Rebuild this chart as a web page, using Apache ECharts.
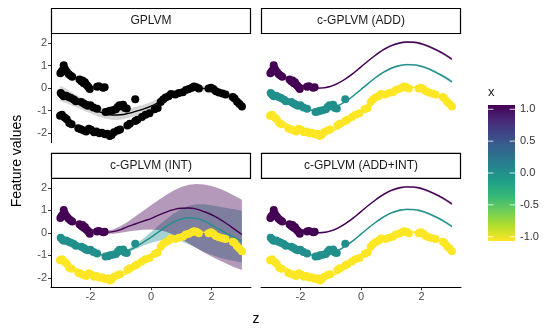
<!DOCTYPE html>
<html>
<head>
<meta charset="utf-8">
<script src="https://cdn.jsdelivr.net/npm/echarts@6/dist/echarts.min.js"></script>
<style>
  html, body { margin: 0; padding: 0; background: #fff; }
  #chart { width: 548px; height: 328px; }
</style>
</head>
<body>
<div id="chart"></div>
<script>
// Panel titles
const panelTitles = ['GPLVM', 'c-GPLVM (ADD)', 'c-GPLVM (INT)', 'c-GPLVM (ADD+INT)'];

// Axis ticks
const xTicks = [-2, 0, 2];
const yTicks = [-2, -1, 0, 1, 2];
const legendTicks = [1.0, 0.5, 0.0, -0.5, -1.0];

// Observed points, grouped by covariate x
const zPurple = [-2.99,-2.95,-2.91,-2.88,-2.84,-2.78,-2.72,-2.66,-2.60,-2.36,-2.30,-2.26,-2.22,-2.18,-2.14,-2.10,-2.06,-2.02,-1.78,-1.72,-1.58,-1.53];
const vPurple = [0.66,0.74,0.80,1.01,0.85,0.72,0.62,0.56,0.50,0.38,0.30,0.34,0.22,0.26,0.16,0.10,0.04,-0.04,0.06,0.08,0.02,0.04];

const zTeal = [-2.98,-2.93,-2.88,-2.80,-2.72,-2.64,-2.55,-2.48,-2.30,-2.22,-2.15,-2.08,-2.00,-1.90,-1.78,-1.50,-1.42,-1.35,-1.26,-1.16,-1.10,-1.04,-0.98,-0.92,-0.86,-0.80,-0.52];
const vTeal = [-0.22,-0.30,-0.36,-0.34,-0.40,-0.44,-0.50,-0.58,-0.62,-0.68,-0.74,-0.78,-0.76,-0.86,-0.92,-1.06,-1.04,-1.00,-0.98,-0.94,-0.84,-0.76,-0.80,-0.74,-0.88,-0.90,-0.49];

const zYellow = [-3.00,-2.94,-2.85,-2.78,-2.70,-2.62,-2.40,-2.32,-2.22,-2.14,-2.05,-1.98,-1.88,-1.80,-1.70,-1.62,-1.52,-1.44,-1.36,-1.30,-1.22,-1.10,-1.02,-0.78,-0.70,-0.52,-0.45,-0.30,-0.18,-0.05,0.12,0.22,0.32,0.40,0.48,0.58,0.66,0.80,0.92,1.05,1.15,1.25,1.35,1.42,1.50,1.58,1.90,1.98,2.06,2.14,2.24,2.36,2.46,2.70,2.76,2.84,2.92,3.00];
const vYellow = [-1.22,-1.18,-1.30,-1.38,-1.55,-1.60,-1.78,-1.82,-1.88,-1.92,-1.80,-1.85,-1.96,-1.92,-2.00,-1.98,-2.05,-2.02,-2.12,-2.08,-1.96,-1.88,-1.84,-1.66,-1.58,-1.46,-1.40,-1.28,-1.18,-1.12,-0.94,-0.88,-0.62,-0.50,-0.42,-0.36,-0.26,-0.28,-0.22,-0.18,-0.08,-0.04,0.02,0.07,0.04,-0.02,-0.02,0.02,-0.04,-0.14,-0.20,-0.24,-0.28,-0.40,-0.46,-0.60,-0.70,-0.82];

// Latent positions where the fitted curves are evaluated
const zFit = [-3.00,-2.75,-2.50,-2.25,-2.00,-1.75,-1.50,-1.25,-1.00,-0.75,-0.50,-0.25,0.00,0.25,0.50,0.75,1.00,1.25,1.50,1.75,2.00,2.25,2.50,2.75,3.00];

// GPLVM: single curve for all points
const gplvmMean = [-0.22,-0.38,-0.55,-0.72,-0.88,-1.03,-1.14,-1.19,-1.18,-1.12,-1.03,-0.93,-0.80,-0.63,-0.45,-0.28,-0.14,-0.05,-0.01,-0.02,-0.08,-0.18,-0.32,-0.50,-0.70];
const gplvmHalf = [0.34,0.31,0.28,0.26,0.24,0.23,0.22,0.22,0.22,0.21,0.20,0.19,0.18,0.16,0.15,0.14,0.13,0.12,0.12,0.12,0.12,0.13,0.15,0.17,0.20];

// Additive model (also used for ADD+INT)
const addPurple = [0.72,0.58,0.44,0.28,0.15,0.05,0.00,0.01,0.08,0.22,0.42,0.66,0.94,1.22,1.48,1.71,1.88,1.99,2.04,2.03,1.96,1.84,1.68,1.50,1.28];
const addTeal = [-0.28,-0.42,-0.56,-0.72,-0.85,-0.95,-1.00,-0.99,-0.92,-0.78,-0.58,-0.34,-0.06,0.22,0.48,0.71,0.88,0.99,1.04,1.03,0.96,0.84,0.68,0.50,0.28];
const addYellow = [-1.28,-1.42,-1.56,-1.72,-1.85,-1.95,-2.00,-1.99,-1.92,-1.78,-1.58,-1.34,-1.06,-0.78,-0.52,-0.29,-0.12,-0.01,0.04,0.03,-0.04,-0.16,-0.32,-0.50,-0.72];
const addHalf = [0.03,0.03,0.03,0.03,0.03,0.03,0.03,0.03,0.03,0.03,0.03,0.03,0.03,0.03,0.03,0.04,0.04,0.04,0.04,0.04,0.05,0.05,0.05,0.06,0.06];

// Interaction model: curves and interval edges
const intPurple = [0.74,0.60,0.45,0.30,0.15,0.06,0.02,0.05,0.14,0.28,0.40,0.52,0.63,0.78,0.92,1.03,1.09,1.10,1.05,0.94,0.80,0.62,0.40,0.16,-0.08];
const intPurpleLow = [0.70,0.56,0.41,0.26,0.11,0.01,-0.04,-0.04,0.00,0.06,0.10,0.13,0.14,0.12,0.04,-0.10,-0.28,-0.48,-0.68,-0.88,-1.05,-1.22,-1.38,-1.53,-1.66];
const intPurpleHigh = [0.78,0.64,0.49,0.34,0.19,0.11,0.08,0.15,0.30,0.50,0.74,0.98,1.22,1.46,1.68,1.88,2.03,2.13,2.17,2.15,2.08,1.97,1.82,1.65,1.47];
const intTeal = [-0.26,-0.40,-0.54,-0.70,-0.83,-0.94,-1.00,-1.00,-0.93,-0.80,-0.62,-0.42,-0.20,0.04,0.27,0.47,0.61,0.67,0.64,0.52,0.34,0.16,-0.03,-0.21,-0.38];
const intTealLow = [-0.30,-0.44,-0.58,-0.74,-0.87,-0.98,-1.04,-1.04,-0.98,-0.87,-0.72,-0.57,-0.45,-0.36,-0.30,-0.30,-0.38,-0.52,-0.68,-0.85,-0.98,-1.10,-1.19,-1.26,-1.32];
const intTealHigh = [-0.22,-0.36,-0.50,-0.66,-0.79,-0.90,-0.96,-0.96,-0.88,-0.72,-0.50,-0.26,0.03,0.32,0.60,0.86,1.06,1.20,1.27,1.27,1.22,1.16,1.10,1.04,0.98];
const intYellow = [-1.26,-1.42,-1.57,-1.72,-1.85,-1.95,-2.00,-1.99,-1.92,-1.78,-1.58,-1.34,-1.06,-0.78,-0.52,-0.30,-0.13,-0.02,0.03,0.02,-0.05,-0.17,-0.33,-0.52,-0.74];
const intYellowHalf = [0.03,0.03,0.03,0.03,0.03,0.03,0.03,0.03,0.03,0.03,0.03,0.03,0.03,0.03,0.03,0.03,0.03,0.03,0.03,0.03,0.04,0.04,0.04,0.05,0.05];

const PURPLE = '#440154', TEAL = '#21908C', YELLOW = '#FDE725';
const VIRIDIS = ['#440154','#482878','#3E4A89','#31688E','#26828E','#1F9E89','#35B779','#6DCD59','#B4DE2C','#FDE725'];
const FONT = 'Liberation Sans, Arial, sans-serif';

// Panel layout (pixels)
const panels = [
  { left: 51, top: 33.5, width: 200, height: 109.2 },
  { left: 261, top: 33.5, width: 200, height: 109.2 },
  { left: 51, top: 178.3, width: 200, height: 108.9 },
  { left: 261, top: 178.3, width: 200, height: 108.9 }
];
const STRIP_H = 25;

const pairs = (xs, ys) => xs.map((x, i) => [x, ys[i]]);
const minus = (a, b) => a.map((v, i) => v - b[i]);
const plus = (a, b) => a.map((v, i) => v + b[i]);

// Shaded interval between two edge curves
function bandSeries(g, low, high, color) {
  const data = zFit.map((z, i) => [z, low[i], high[i]]);
  return {
    type: 'custom', xAxisIndex: g, yAxisIndex: g, data, silent: true, z: 1,
    encode: { x: 0, y: [1, 2] },
    renderItem(params, api) {
      if (params.dataIndex !== 0) return null;
      const upper = data.map(d => api.coord([d[0], d[2]]));
      const lower = data.map(d => api.coord([d[0], d[1]])).reverse();
      return {
        type: 'polygon',
        shape: { points: upper.concat(lower) },
        style: { fill: color, opacity: 0.4 }
      };
    }
  };
}

function lineSeries(g, mean, color) {
  return {
    type: 'line', xAxisIndex: g, yAxisIndex: g, data: pairs(zFit, mean),
    showSymbol: false, smooth: true, silent: true, z: 3,
    lineStyle: { color, width: 1.4 }
  };
}

function pointSeries(g, zs, vs, color) {
  return {
    type: 'scatter', xAxisIndex: g, yAxisIndex: g, data: pairs(zs, vs),
    symbolSize: 8, silent: true, z: 4,
    itemStyle: { color, opacity: 1 }
  };
}

const series = [];
// GPLVM
series.push(bandSeries(0, minus(gplvmMean, gplvmHalf), plus(gplvmMean, gplvmHalf), '#999999'));
series.push(lineSeries(0, gplvmMean, '#000000'));
series.push(pointSeries(0, zPurple.concat(zTeal, zYellow), vPurple.concat(vTeal, vYellow), '#000000'));
// ADD and ADD+INT
[1, 3].forEach(g => {
  series.push(bandSeries(g, minus(addYellow, addHalf), plus(addYellow, addHalf), YELLOW));
  series.push(bandSeries(g, minus(addTeal, addHalf), plus(addTeal, addHalf), TEAL));
  series.push(bandSeries(g, minus(addPurple, addHalf), plus(addPurple, addHalf), PURPLE));
  series.push(lineSeries(g, addYellow, YELLOW));
  series.push(lineSeries(g, addTeal, TEAL));
  series.push(lineSeries(g, addPurple, PURPLE));
  series.push(pointSeries(g, zYellow, vYellow, YELLOW));
  series.push(pointSeries(g, zTeal, vTeal, TEAL));
  series.push(pointSeries(g, zPurple, vPurple, PURPLE));
});
// INT
series.push(bandSeries(2, minus(intYellow, intYellowHalf), plus(intYellow, intYellowHalf), YELLOW));
series.push(bandSeries(2, intTealLow, intTealHigh, TEAL));
series.push(bandSeries(2, intPurpleLow, intPurpleHigh, PURPLE));
series.push(lineSeries(2, intYellow, YELLOW));
series.push(lineSeries(2, intTeal, TEAL));
series.push(lineSeries(2, intPurple, PURPLE));
series.push(pointSeries(2, zYellow, vYellow, YELLOW));
series.push(pointSeries(2, zTeal, vTeal, TEAL));
series.push(pointSeries(2, zPurple, vPurple, PURPLE));

const tickLabelStyle = { color: '#4D4D4D', fontSize: 11, fontFamily: FONT };

const xAxis = panels.map((p, i) => {
  const bottom = i >= 2;
  return {
    type: 'value', gridIndex: i, min: -3.3, max: 3.3,
    splitLine: { show: false },
    axisLine: { show: bottom, onZero: false, lineStyle: { color: '#000', width: 1 } },
    axisTick: { show: bottom, length: 3, customValues: xTicks, lineStyle: { color: '#333' } },
    axisLabel: Object.assign({ show: bottom, margin: 4, customValues: xTicks }, tickLabelStyle)
  };
});
const yAxis = panels.map((p, i) => {
  const left = i % 2 === 0;
  return {
    type: 'value', gridIndex: i, min: -2.42, max: 2.42,
    splitLine: { show: false },
    axisLine: { show: left, onZero: false, lineStyle: { color: '#000', width: 1 } },
    axisTick: { show: left, length: 3, customValues: yTicks, lineStyle: { color: '#333' } },
    axisLabel: Object.assign({ show: left, margin: 4, customValues: yTicks }, tickLabelStyle)
  };
});

const graphics = [];
// Facet strips
panels.forEach((p, i) => {
  graphics.push({
    type: 'rect', silent: true,
    shape: { x: p.left + 0.5, y: p.top - STRIP_H, width: p.width - 1, height: STRIP_H },
    style: { fill: '#fff', stroke: '#000', lineWidth: 1.2 }
  });
  graphics.push({
    type: 'text', silent: true,
    x: p.left + p.width / 2, y: p.top - STRIP_H / 2,
    style: { text: panelTitles[i], fill: '#1A1A1A', fontSize: 12, fontFamily: FONT, align: 'center', verticalAlign: 'middle' }
  });
});
// Axis titles
graphics.push({
  type: 'text', silent: true, x: 17, y: 161, rotation: Math.PI / 2,
  style: { text: 'Feature values', fill: '#000', fontSize: 14, fontFamily: FONT, align: 'center', verticalAlign: 'middle' }
});
graphics.push({
  type: 'text', silent: true, x: 256, y: 319,
  style: { text: 'z', fill: '#000', fontSize: 14, fontFamily: FONT, align: 'center', verticalAlign: 'middle' }
});
// Colour bar legend
const bar = { x: 488, y: 105, w: 27, h: 136, tTop: 109.3, tBottom: 236.7 };
graphics.push({
  type: 'text', silent: true, x: bar.x, y: 92,
  style: { text: 'x', fill: '#1A1A1A', fontSize: 13, fontFamily: FONT, align: 'left', verticalAlign: 'middle' }
});
graphics.push({
  type: 'rect', silent: true,
  shape: { x: bar.x, y: bar.y, width: bar.w, height: bar.h },
  style: {
    fill: new echarts.graphic.LinearGradient(0, 0, 0, 1,
      VIRIDIS.map((c, i) => ({ offset: i / (VIRIDIS.length - 1), color: c })))
  }
});
legendTicks.forEach(v => {
  const ty = bar.tTop + (1 - v) / 2 * (bar.tBottom - bar.tTop);
  graphics.push({ type: 'line', silent: true, shape: { x1: bar.x, y1: ty, x2: bar.x + 5.4, y2: ty }, style: { stroke: '#fff', lineWidth: 0.8 } });
  graphics.push({ type: 'line', silent: true, shape: { x1: bar.x + bar.w - 5.4, y1: ty, x2: bar.x + bar.w, y2: ty }, style: { stroke: '#fff', lineWidth: 0.8 } });
  graphics.push({
    type: 'text', silent: true, x: bar.x + bar.w + 5, y: ty,
    style: { text: v.toFixed(1), fill: '#333', fontSize: 11, fontFamily: FONT, align: 'left', verticalAlign: 'middle' }
  });
});

const chart = echarts.init(document.getElementById('chart'), null, { renderer: 'canvas' });
chart.setOption({
  animation: false,
  backgroundColor: '#fff',
  grid: panels.map(p => ({ left: p.left, top: p.top, width: p.width, height: p.height, containLabel: false })),
  xAxis, yAxis, series, graphic: graphics
});
</script>
</body>
</html>
